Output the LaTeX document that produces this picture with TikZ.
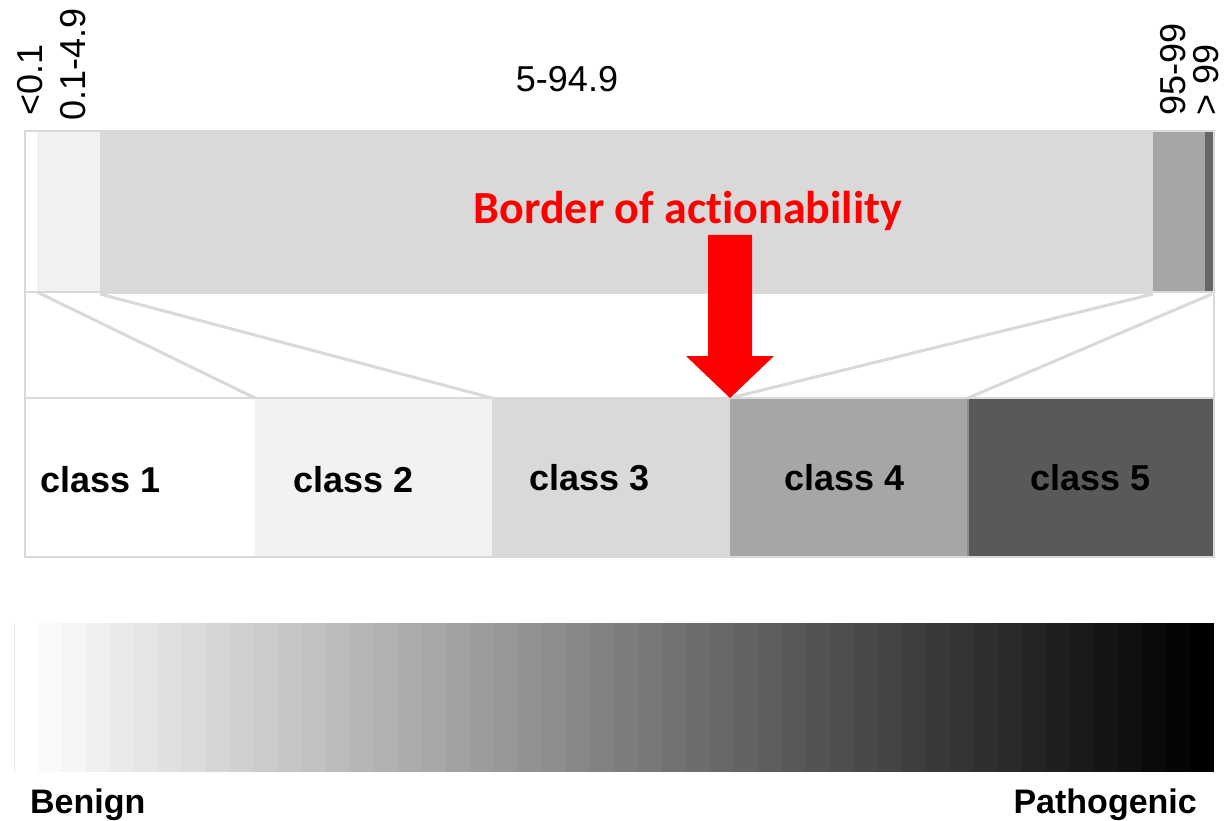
\documentclass[tikz,border=0pt]{standalone}
\usepackage{fontspec}
\setmainfont{Liberation Sans}
\newfontfamily\calib[Ligatures=NoCommon]{Carlito}
\definecolor{bord}{HTML}{D9D9D9}
\definecolor{gA}{HTML}{F2F2F2}
\definecolor{gB}{HTML}{D9D9D9}
\definecolor{gC}{HTML}{A6A6A6}
\definecolor{gD}{HTML}{595959}
\definecolor{gE}{HTML}{666666}
\begin{document}
\begin{tikzpicture}[x=1pt,y=-1pt,
  lbl/.style={inner sep=0pt,font=\fontsize{36}{40}\selectfont},
  clslbl/.style={inner sep=0pt,anchor=base west,font=\fontsize{36}{40}\selectfont\bfseries},
  clsbox/.style={inner sep=0pt,minimum height=160,anchor=north west,draw=none},
  fan/.style={draw=bord,line width=3pt}]
\useasboundingbox (0,0) rectangle (1227,821);
% top bar segments
\fill[white] (24,130) rectangle (37,292);
\fill[gA] (37,130) rectangle (100,292);
\fill[gB] (100,130) rectangle (1153,294);
\fill[gC] (1153,130) rectangle (1205,292);
\fill[gE] (1205,130) rectangle (1213,292);
\draw[bord,line width=2.5pt] (25,131) rectangle (1214,292);
\coordinate (t1) at (37,292);
\coordinate (t2) at (100,294);
\coordinate (t3) at (1153,294);
\coordinate (t4) at (1212,294);
% lower class boxes
\node[clsbox,fill=white,minimum width=231] (c1) at (24,398) {};
\node[clsbox,fill=gA,minimum width=237] (c2) at (255,398) {};
\node[clsbox,fill=gB,minimum width=238] (c3) at (492,398) {};
\node[clsbox,fill=gC,minimum width=238] (c4) at (730,398) {};
\node[clsbox,fill=gD,minimum width=245] (c5) at (968,398) {};
\draw[gray!90,line width=2pt] (c5.north west) -- (c5.south west);
\draw[bord,line width=2.5pt] (25,398) rectangle (1214,557);
% side lines
\draw[bord,line width=2.5pt] (25,292) -- (25,398);
\draw[bord,line width=2.5pt] (1214,292) -- (1214,398);
% fan connectors
\draw[fan] (t1) -- (c2.north west);
\draw[fan] (t2) -- (c3.north west);
\draw[fan] (t3) -- (c4.north west);
\draw[fan] (t4) -- (c5.north west);
% class labels
\node[clslbl] (l1) at (40,492) {class 1};
\node[clslbl] (l2) at (293,492) {class 2};
\node[clslbl] (l3) at (529,490) {class 3};
\node[clslbl] (l4) at (784,490) {class 4};
\node[clslbl] (l5) at (1030,490) {class 5};
% range labels
\node[lbl,anchor=base] (r3) at (567,92) {5-94.9};
\node[lbl,rotate=90,anchor=base west] (r1) at (42,116) {<0.1};
\node[lbl,rotate=90,anchor=base west] (r2) at (85,121) {0.1-4.9};
\node[lbl,rotate=90,anchor=base west] (r4) at (1185,116) {95-99};
\node[lbl,rotate=90,anchor=base west] (r5) at (1218,116) {> 99};
% border of actionability
\node[inner sep=0pt,anchor=base,text=red,font=\calib\fontsize{46}{50}\selectfont\bfseries] (bt) at (688,224) {Border of actionability};
\fill[red] (708,235) -- (752,235) -- (752,356) -- (774,356) -- (730,398) -- (686,356) -- (708,356) -- cycle;
% gradient bar
\foreach \i in {0,...,49}{
  \pgfmathsetmacro{\p}{\i*100/49}
  \fill[black!\p] ({14+\i*24},623) rectangle ({14+(\i+1)*24},772);
}
\draw[black!8,line width=0.8pt] (14,623) -- (14,772);
\node[inner sep=0pt,anchor=base west,font=\fontsize{34}{38}\selectfont\bfseries] (ben) at (30,813) {Benign};
\node[inner sep=0pt,anchor=base east,font=\fontsize{34}{38}\selectfont\bfseries] (pat) at (1197,813) {Pathogenic};
\end{tikzpicture}
\end{document}
